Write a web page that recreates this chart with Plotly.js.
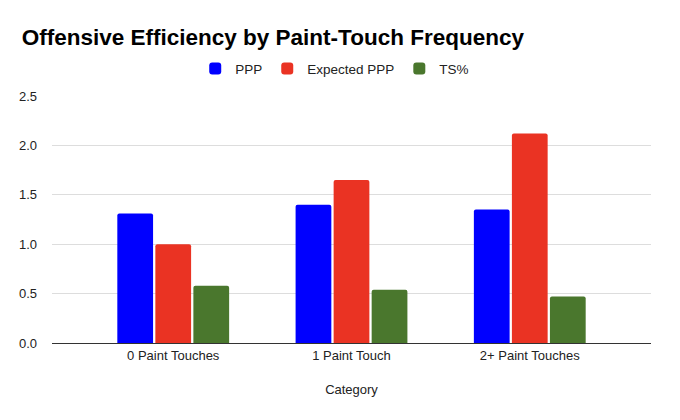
<!DOCTYPE html>
<html>
<head>
<meta charset="utf-8">
<script src="https://cdn.plot.ly/plotly-3.0.1.min.js"></script>
<style>
  html, body { margin: 0; padding: 0; background: #ffffff; }
  #chart { width: 680px; height: 420px; }
</style>
</head>
<body>
<div id="chart"></div>
<script>
    // Values
    var categories = ['0 Paint Touches', '1 Paint Touch', '2+ Paint Touches'];
    var pppValues = [1.31, 1.40, 1.35];
    var expectedPppValues = [1.00, 1.65, 2.12];
    var tsValues = [0.58, 0.54, 0.47];
    var yTickValues = [0, 0.5, 1, 1.5, 2, 2.5];
    var yTickLabels = ['0.0', '0.5', '1.0', '1.5', '2.0', '2.5'];

    var font = { family: 'Arial, "Liberation Sans", sans-serif', color: '#222222', size: 13 };

    function makeBar(name, values, color) {
        return {
            name: name,
            x: categories,
            y: values,
            type: 'bar',
            marker: { color: color, cornerradius: 2 },
            hoverinfo: 'x+y+name'
        };
    }

    var traces = [
        makeBar('PPP', pppValues, '#0000ff'),
        makeBar('Expected PPP', expectedPppValues, '#ea3323'),
        makeBar('TS%', tsValues, '#4a772d')
    ];

    var layout = {
        width: 680,
        height: 420,
        margin: { t: 96, r: 29, b: 77, l: 52 },
        paper_bgcolor: '#ffffff',
        plot_bgcolor: '#ffffff',
        font: font,
        title: {
            text: '<b>Offensive Efficiency by Paint-Touch Frequency</b>',
            font: { family: 'Arial, "Liberation Sans", sans-serif', size: 22.5, color: '#000000' },
            x: 0.032,
            xanchor: 'left',
            y: 0.912,
            yanchor: 'middle'
        },
        showlegend: true,
        legend: {
            orientation: 'h',
            x: 0.472,
            xanchor: 'center',
            y: 1.11,
            yanchor: 'middle',
            font: { family: font.family, size: 13.5, color: '#222222' },
            itemclick: false
        },
        barmode: 'group',
        bargap: 0.36,
        bargroupgap: 0.06,
        xaxis: {
            type: 'category',
            // gridlines run past the outer categories, as in the source chart
            range: [-0.68, 2.68],
            showgrid: false,
            showline: false,
            zeroline: false,
            ticks: '',
            ticklabelstandoff: 3,
            tickfont: { size: 13, color: '#222222' },
            title: { text: 'Category', font: { size: 13, color: '#222222' }, standoff: 22 }
        },
        yaxis: {
            range: [0, 2.5],
            tickvals: yTickValues,
            ticktext: yTickLabels,
            showgrid: true,
            gridcolor: '#dddddd',
            gridwidth: 1,
            zeroline: true,
            zerolinecolor: '#333333',
            zerolinewidth: 1,
            showline: false,
            ticks: '',
            ticklabelstandoff: 14,
            tickfont: { size: 13, color: '#222222' }
        }
    };

    Plotly.newPlot('chart', traces, layout, { displayModeBar: false, responsive: false });
</script>
</body>
</html>
